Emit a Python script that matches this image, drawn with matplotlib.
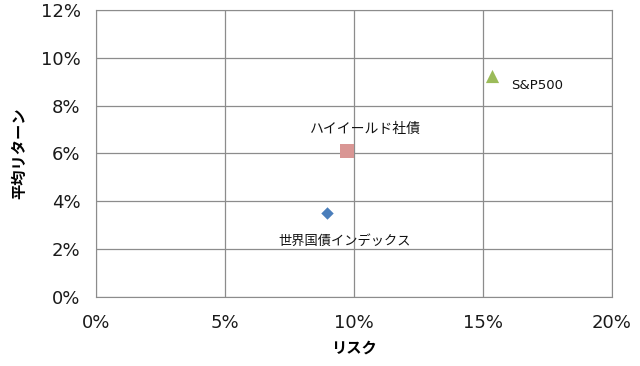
import matplotlib.pyplot as plt
from matplotlib.ticker import PercentFormatter

plt.rcParams['font.family'] = ['Noto Sans CJK JP', 'DejaVu Sans']

names = ['世界国債インデックス', 'ハイイールド社債', 'S&P500']
risk = [8.95, 9.73, 15.35]
ret = [3.5, 6.1, 9.25]
colors = ['#4A7EBB', '#D99694', '#9BBB59']
markers = ['D', 's', '^']
sizes = [40, 100, 90]
# label offsets in points, alignment, size
offsets = [((13, -20), 'center', 9.5), ((13, 16), 'center', 10), ((14, -7), 'left', 9.5)]

fig = plt.figure(figsize=(6.4, 3.66), dpi=100)
ax = fig.add_axes([0.15, 0.1885, 0.806, 0.7845])

for n, x, y, c, m, s, (off, ha, fs) in zip(names, risk, ret, colors, markers, sizes, offsets):
    ax.scatter(x, y, marker=m, s=s, color=c, zorder=3, linewidths=0)
    fam = ['DejaVu Sans'] if n.isascii() else ['Noto Sans CJK JP', 'DejaVu Sans']
    ax.annotate(n, (x, y), xytext=off, textcoords='offset points',
                ha=ha, va='center', fontsize=fs, color='#111111', family=fam)

ax.set_xlim(0, 20)
ax.set_ylim(0, 12)
ax.set_xticks([0, 5, 10, 15, 20])
ax.set_yticks(range(0, 13, 2))
ax.xaxis.set_major_formatter(PercentFormatter(decimals=0))
ax.yaxis.set_major_formatter(PercentFormatter(decimals=0))
ax.grid(True, color='#8c8c8c', lw=0.9)
ax.set_axisbelow(True)
for sp in ax.spines.values():
    sp.set_color('#8c8c8c')
ax.tick_params(length=0, labelsize=13, pad=11, colors='#1a1a1a')
ax.tick_params(axis='x', pad=12)
for lbl in ax.get_xticklabels() + ax.get_yticklabels():
    lbl.set_family('DejaVu Sans')

ax.set_xlabel('リスク', fontsize=11, fontweight='bold', labelpad=6)
ax.set_ylabel('平均リターン', fontsize=11, fontweight='bold', labelpad=10)

fig.savefig('out.png', dpi=100)
